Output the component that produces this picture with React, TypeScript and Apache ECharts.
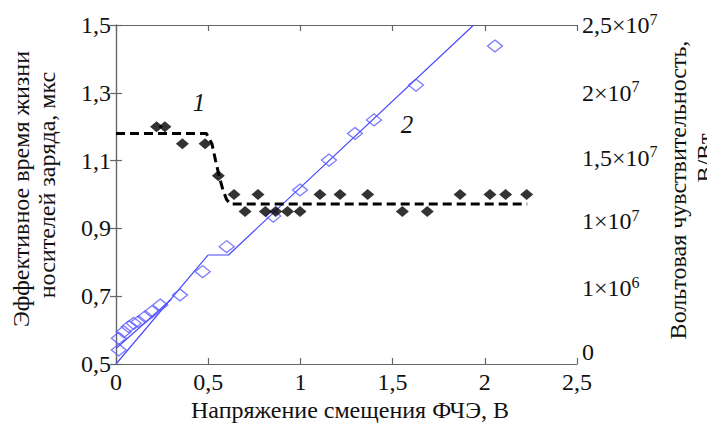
import React, { useEffect, useRef } from "react";
import * as echarts from "echarts";

const xTickLabels = ["0", "0,5", "1", "1,5", "2", "2,5"];
const leftTickLabels = ["0,5", "0,7", "0,9", "1,1", "1,3", "1,5"];
const rightTickBase = ["0", "1×10", "1×10", "1,5×10", "2×10", "2,5×10"];
const rightTickExp = ["", "6", "7", "7", "7", "7"];

// curve 1: effective lifetime (μs) vs bias (V)
const lifetimePoints: [number, number][] = [
  [0.22, 1.2], [0.265, 1.2], [0.36, 1.15], [0.483, 1.15], [0.555, 1.055],
  [0.64, 1.0], [0.7, 0.95], [0.77, 1.0], [0.81, 0.95], [0.866, 0.95],
  [0.93, 0.95], [0.998, 0.95], [1.106, 1.0], [1.215, 1.0], [1.365, 1.0],
  [1.553, 0.95], [1.688, 0.95], [1.866, 1.0], [2.028, 1.0], [2.113, 1.0],
  [2.227, 1.0],
];
const lifetimeFit: [number, number][] = [
  [0, 1.18], [0.49, 1.18], [0.52, 1.15], [0.54, 1.1], [0.56, 1.053],
  [0.58, 1.013], [0.6, 0.985], [0.62, 0.972], [2.23, 0.972],
];

// curve 2: voltage sensitivity (×10^7 V/W) vs bias (V)
const sensPoints: [number, number][] = [
  [0.015, 0.103], [0.015, 0.19], [0.042, 0.238], [0.069, 0.275], [0.096, 0.3],
  [0.123, 0.312], [0.159, 0.349], [0.195, 0.386], [0.24, 0.435], [0.347, 0.509],
  [0.47, 0.681], [0.6, 0.865], [0.853, 1.091], [0.998, 1.283], [1.155, 1.504],
  [1.296, 1.7], [1.399, 1.8], [1.627, 2.057], [2.055, 2.345],
];
const sensFit: [number, number][] = [
  [0, 0], [0.5, 0.804], [0.61, 0.804], [1.94, 2.5],
];
const sensFit2: [number, number][] = [
  [0.005, 0.12], [0.3, 0.478],
];

const FONT = "Liberation Serif";

export default function App() {
  const ref = useRef<HTMLDivElement>(null);
  useEffect(() => {
    if (!ref.current) return;
    const chart = echarts.init(ref.current, null, { renderer: "svg" });
    const axisLine = { show: true, lineStyle: { color: "#666", width: 1.2 } };
    const axisTick = { show: true, inside: true, length: 6, lineStyle: { color: "#666", width: 1.2 } };
    chart.setOption({
      animation: false,
      backgroundColor: "#fff",
      textStyle: { fontFamily: FONT },
      grid: { left: 116, right: 130, top: 25, bottom: 62, containLabel: false },
      xAxis: [
        {
          type: "value", min: 0, max: 2.5, interval: 0.5, position: "bottom",
          axisLine, axisTick, splitLine: { show: false },
          axisLabel: {
            margin: 6, color: "#111", fontFamily: FONT, fontSize: 24,
            formatter: (v: number) => xTickLabels[Math.round(v / 0.5)] ?? "",
          },
        },
        {
          type: "value", min: 0, max: 2.5, interval: 0.5, position: "top",
          axisLine, axisTick, splitLine: { show: false }, axisLabel: { show: false },
        },
      ],
      yAxis: [
        {
          type: "value", min: 0.5, max: 1.5, interval: 0.2, position: "left",
          axisLine, axisTick, splitLine: { show: false },
          axisLabel: {
            margin: 5, color: "#111", fontFamily: FONT, fontSize: 24,
            formatter: (v: number) => leftTickLabels[Math.round((v - 0.5) / 0.2)] ?? "",
          },
        },
        {
          type: "value", min: 0, max: 2.5, interval: 0.5, position: "right",
          axisLine, axisTick, splitLine: { show: false },
          axisLabel: {
            margin: 5, color: "#111", fontFamily: FONT, fontSize: 24,
            formatter: (v: number) => {
              const i = Math.round(v / 0.5);
              const b = rightTickBase[i] ?? "";
              const e = rightTickExp[i] ?? "";
              return e ? `{m${i}|${b}}{s${i}|${e}}` : `{m${i}|${b}}`;
            },
            rich: Object.fromEntries(
              [0, 1, 2, 3, 4, 5].flatMap((i) => {
                const up = [24, 16, 14, 6, 0, 0][i];
                return [
                  [`m${i}`, { fontFamily: FONT, fontSize: 24, color: "#111", lineHeight: 26, padding: [0, 0, up, 0] }],
                  [`s${i}`, { fontFamily: FONT, fontSize: 16, color: "#111", lineHeight: 26, padding: [0, 0, up + 12, 0] }],
                ];
              })
            ),
          },
        },
      ],
      series: [
        {
          type: "line", data: sensFit, yAxisIndex: 1, showSymbol: false, symbol: "none",
          lineStyle: { color: "#4a4aff", width: 1.2 }, clip: true, z: 2,
        },
        {
          type: "line", data: sensFit2, yAxisIndex: 1, showSymbol: false, symbol: "none",
          lineStyle: { color: "#4a4aff", width: 1.2 }, clip: true, z: 2,
        },
        {
          type: "scatter", data: sensPoints, yAxisIndex: 1, symbol: "diamond", symbolSize: [15, 12],
          itemStyle: { color: "transparent", borderColor: "#5a5aff", borderWidth: 1.3 }, z: 3,
        },
        {
          type: "line", data: lifetimeFit, yAxisIndex: 0, showSymbol: false, symbol: "none",
          lineStyle: { color: "#000", width: 3, type: [9, 5] }, z: 4,
        },
        {
          type: "scatter", data: lifetimePoints, yAxisIndex: 0, symbol: "diamond", symbolSize: [13, 11],
          itemStyle: { color: "#000" }, z: 5,
        },
      ],
      graphic: [
        {
          type: "text", x: 21, y: 189, rotation: Math.PI / 2,
          style: { text: "Эффективное время жизни", fontFamily: FONT, fontSize: 24, fill: "#111", textAlign: "center", textVerticalAlign: "middle" },
        },
        {
          type: "text", x: 47, y: 185, rotation: Math.PI / 2,
          style: { text: "носителей заряда, мкс", fontFamily: FONT, fontSize: 24, fill: "#111", textAlign: "center", textVerticalAlign: "middle" },
        },
        {
          type: "text", x: 678, y: 190, rotation: Math.PI / 2,
          style: { text: "Вольтовая чувствительность,", fontFamily: FONT, fontSize: 24, fill: "#111", textAlign: "center", textVerticalAlign: "middle" },
        },
        {
          type: "text", x: 705, y: 158, rotation: Math.PI / 2,
          style: { text: "В/Вт", fontFamily: FONT, fontSize: 24, fill: "#111", textAlign: "center", textVerticalAlign: "middle" },
        },
        {
          type: "text", x: 350, y: 410,
          style: { text: "Напряжение смещения ФЧЭ, В", fontFamily: FONT, fontSize: 24, fill: "#111", textAlign: "center", textVerticalAlign: "middle" },
        },
        {
          type: "text", x: 199, y: 102,
          style: { text: "1", fontFamily: FONT, fontStyle: "italic", fontSize: 25, fill: "#111", textAlign: "center", textVerticalAlign: "middle" },
        },
        {
          type: "text", x: 407, y: 124,
          style: { text: "2", fontFamily: FONT, fontStyle: "italic", fontSize: 25, fill: "#111", textAlign: "center", textVerticalAlign: "middle" },
        },
      ],
    });
    return () => chart.dispose();
  }, []);
  return (
    <div
      ref={ref}
      style={{ position: "fixed", left: 0, top: 0, width: 707, height: 426, background: "#fff" }}
    />
  );
}
